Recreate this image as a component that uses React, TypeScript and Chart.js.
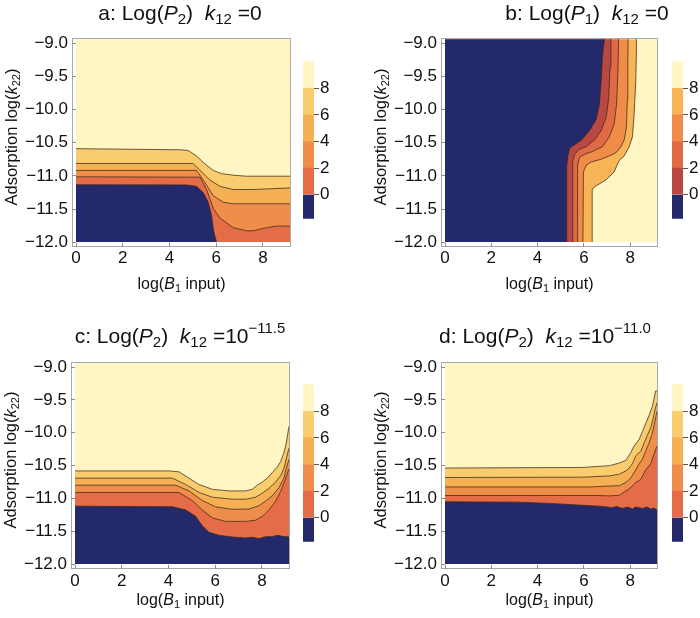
import React, { useEffect, useRef } from 'react';
import { Chart, registerables } from 'chart.js';

Chart.register(...registerables);

const FONT = '"Liberation Sans", Arial, Helvetica, sans-serif';
const INK = '#111111';
const CONTOUR_LINE = 'rgba(60, 40, 25, 0.75)';
const FRAME = '#a8a8a8';

// ---------- axes ----------
const xTicks = [0, 2, 4, 6, 8];
const xTickLabels = ['0', '2', '4', '6', '8'];
const yTicks = [-12, -11.5, -11, -10.5, -10, -9.5, -9];
const yTickLabels = ['−12.0', '−11.5', '−11.0', '−10.5', '−10.0', '−9.5', '−9.0'];
const xDataRange = [0, 9.16];
const yDataRange = [-12, -8.94];

// ---------- colour bar ----------
const barLevels = [-1.82, 0, 2, 4, 6, 8, 10.04];
const barTicks = [0, 2, 4, 6, 8];
const barTickLabels = ['0', '2', '4', '6', '8'];
// <0, 0-2, 2-4, 4-6, 6-8, >8
const coloursP2 = ['#23296B', '#E46C46', '#EF8E4B', '#F5B054', '#F9CC6E', '#FFF6C4'];
const coloursP1 = ['#23296B', '#B84841', '#DF6A45', '#EF8C4A', '#F7B557', '#FFF6C4'];

// ---------- panel a: Log(P2), k12 = 0  (contour y as function of x) ----------
const aC0 = [[0, -11.134], [4.73, -11.136], [5.16, -11.158], [5.45, -11.254], [5.66, -11.397], [5.8, -11.589], [5.9, -11.85], [6.02, -12.0]];
const aC2 = [[0, -11.014], [5.31, -11.02], [5.59, -11.206], [5.88, -11.493], [6.16, -11.636], [6.73, -11.78], [7.3, -11.828], [7.59, -11.828], [8.16, -11.78], [8.59, -11.756], [9.16, -11.756]];
const aC4 = [[0, -10.918], [5.16, -10.918], [5.45, -11.062], [5.88, -11.3], [6.3, -11.397], [6.73, -11.421], [7.59, -11.421], [9.16, -11.421]];
const aC6 = [[0, -10.813], [5.02, -10.813], [5.31, -10.918], [5.73, -11.062], [6.16, -11.158], [6.73, -11.206], [7.59, -11.206], [9.16, -11.182]];
const aC8 = [[0, -10.59], [4.45, -10.607], [4.8, -10.617], [5.16, -10.7], [5.52, -10.82], [5.88, -10.918], [6.23, -10.966], [6.73, -10.99], [7.3, -11.005], [9.16, -11.005]];

// ---------- panel b: Log(P1), k12 = 0  (contour x as function of y) ----------
const bC0 = [[5.24, -12.0], [5.26, -10.85], [5.31, -10.7], [5.39, -10.58], [5.6, -10.53], [5.89, -10.46], [6.24, -10.32], [6.53, -10.15], [6.67, -9.93], [6.74, -9.6], [6.81, -9.17], [6.89, -8.94]];
const bC2 = [[5.5, -12.0], [5.52, -10.79], [5.6, -10.675], [5.81, -10.6], [6.1, -10.56], [6.46, -10.46], [6.74, -10.32], [6.96, -10.125], [7.07, -9.84], [7.13, -9.36], [7.17, -8.94]];
const bC4 = [[5.71, -12.0], [5.73, -10.84], [5.81, -10.72], [6.03, -10.675], [6.39, -10.63], [6.81, -10.56], [7.1, -10.41], [7.31, -10.22], [7.41, -9.93], [7.47, -9.455], [7.5, -8.94]];
const bC6 = [[5.96, -12.0], [5.98, -10.94], [6.1, -10.84], [6.32, -10.79], [6.74, -10.75], [7.1, -10.7], [7.39, -10.65], [7.6, -10.56], [7.74, -10.46], [7.84, -10.27], [7.88, -9.84], [7.9, -9.36], [7.91, -8.94]];
const bC8 = [[6.36, -12.0], [6.36, -11.2], [6.53, -11.15], [6.96, -11.06], [7.31, -10.94], [7.43, -10.84], [7.53, -10.77], [7.74, -10.7], [7.96, -10.56], [8.1, -10.41], [8.17, -10.08], [8.24, -9.6], [8.27, -9.17], [8.27, -8.94]];

// ---------- panel c: Log(P2), k12 = 10^-11.5 ----------
const cC0 = [[0, -11.116], [4.17, -11.126], [4.74, -11.174], [5.16, -11.27], [5.45, -11.415], [5.73, -11.512], [6.16, -11.56], [6.73, -11.585], [7.3, -11.6], [7.59, -11.59], [7.87, -11.61], [8.16, -11.58], [8.45, -11.58], [8.66, -11.56], [8.87, -11.575], [9.16, -11.585]];
const cC2 = [[0, -10.908], [4.45, -10.908], [5.02, -11.03], [5.45, -11.174], [5.88, -11.295], [6.45, -11.348], [7.3, -11.348], [7.73, -11.33], [8.02, -11.27], [8.3, -11.174], [8.59, -11.04], [8.8, -10.894], [8.94, -10.763], [9.04, -10.667], [9.16, -10.546]];
const cC4 = [[0, -10.797], [4.31, -10.797], [4.88, -10.884], [5.45, -11.03], [6.02, -11.126], [6.73, -11.164], [7.45, -11.16], [7.87, -11.11], [8.16, -11.04], [8.45, -10.957], [8.73, -10.836], [8.94, -10.69], [9.04, -10.546], [9.16, -10.4]];
const cC6 = [[0, -10.69], [4.17, -10.69], [4.74, -10.787], [5.31, -10.908], [5.88, -10.98], [6.73, -11.01], [7.3, -11.01], [7.73, -10.98], [8.02, -10.918], [8.3, -10.845], [8.59, -10.749], [8.8, -10.652], [8.94, -10.546], [9.04, -10.4], [9.16, -10.23]];
const cC8 = [[0, -10.58], [4.02, -10.58], [4.45, -10.594], [4.88, -10.69], [5.31, -10.787], [5.88, -10.86], [6.59, -10.884], [7.3, -10.884], [7.59, -10.86], [7.8, -10.797], [8.02, -10.749], [8.23, -10.69], [8.45, -10.604], [8.66, -10.52], [8.8, -10.44], [8.94, -10.304], [9.04, -10.16], [9.16, -9.9]];

// ---------- panel d: Log(P2), k12 = 10^-11.0 ----------
const dC0 = [[0, -11.05], [3.1, -11.055], [4.53, -11.074], [5.96, -11.103], [6.81, -11.12], [7.24, -11.14], [7.39, -11.12], [7.67, -11.15], [7.89, -11.13], [8.1, -11.16], [8.24, -11.13], [8.53, -11.15], [8.74, -11.13], [8.89, -11.16], [9.03, -11.146], [9.16, -11.175]];
const dC2 = [[0, -10.954], [6.53, -10.954], [7.1, -10.96], [7.53, -10.95], [7.96, -10.853], [8.24, -10.757], [8.46, -10.71], [8.67, -10.565], [8.89, -10.47], [9.03, -10.325], [9.16, -10.2]];
const dC4 = [[0, -10.824], [6.24, -10.824], [7.1, -10.81], [7.53, -10.805], [7.81, -10.757], [8.03, -10.685], [8.24, -10.565], [8.39, -10.47], [8.53, -10.4], [8.67, -10.28], [8.81, -10.16], [8.93, -10.04], [9.03, -9.89], [9.1, -9.77], [9.16, -9.67]];
const dC6 = [[0, -10.68], [5.96, -10.675], [7.1, -10.656], [7.53, -10.63], [7.89, -10.565], [8.1, -10.47], [8.24, -10.35], [8.46, -10.28], [8.6, -10.16], [8.74, -10.04], [8.89, -9.92], [9.0, -9.77], [9.07, -9.65], [9.16, -9.54]];
const dC8 = [[0, -10.536], [5.96, -10.527], [7.1, -10.5], [7.53, -10.46], [7.81, -10.42], [8.03, -10.3], [8.17, -10.2], [8.39, -10.1], [8.53, -9.98], [8.67, -9.86], [8.81, -9.74], [8.96, -9.6], [9.03, -9.48], [9.1, -9.365], [9.16, -9.36]];

const Sub = ({ children, size = 15, dy = 4 }: { children: React.ReactNode; size?: number; dy?: number }) => (
  <span style={{ fontSize: size, position: 'relative', top: dy }}>{children}</span>
);
const Sup = ({ children }: { children: React.ReactNode }) => (
  <span style={{ fontSize: 15, position: 'relative', top: -10 }}>{children}</span>
);

type PanelSpec = {
  key: string;
  frame: number[];
  bar: number[];
  title: React.ReactNode;
  titleCx: number;
  titleTop: number;
  contours: number[][][];
  colours: string[];
  horizontal: boolean;
  xTitleTop: number;
  xTickPad: number;
};

const panels: PanelSpec[] = [
  {
    key: 'a', frame: [72, 28, 291, 247], bar: [303, 58, 314, 221],
    title: <>a: Log(<i>P</i><Sub>2</Sub>)&nbsp;&nbsp;<i>k</i><Sub>12</Sub> =0</>,
    titleCx: 180, titleTop: 2, contours: [aC0, aC2, aC4, aC6, aC8], colours: coloursP2,
    horizontal: false, xTitleTop: 276, xTickPad: 1,
  },
  {
    key: 'b', frame: [441, 28, 658, 247], bar: [672, 58, 683, 221],
    title: <>b: Log(<i>P</i><Sub>1</Sub>)&nbsp;&nbsp;<i>k</i><Sub>12</Sub> =0</>,
    titleCx: 587, titleTop: 2, contours: [bC0, bC2, bC4, bC6, bC8], colours: coloursP1,
    horizontal: true, xTitleTop: 276, xTickPad: 1,
  },
  {
    key: 'c', frame: [71, 352, 290, 569], bar: [303, 381, 314, 544],
    title: <>c: Log(<i>P</i><Sub>2</Sub>)&nbsp;&nbsp;<i>k</i><Sub>12</Sub> =10<Sup>−11.5</Sup></>,
    titleCx: 180, titleTop: 325, contours: [cC0, cC2, cC4, cC6, cC8], colours: coloursP2,
    horizontal: false, xTitleTop: 592, xTickPad: 2.5,
  },
  {
    key: 'd', frame: [441, 352, 658, 569], bar: [672, 381, 683, 544],
    title: <>d: Log(<i>P</i><Sub>2</Sub>)&nbsp;&nbsp;<i>k</i><Sub>12</Sub> =10<Sup>−11.0</Sup></>,
    titleCx: 545, titleTop: 325, contours: [dC0, dC2, dC4, dC6, dC8], colours: coloursP2,
    horizontal: false, xTitleTop: 592, xTickPad: 2.5,
  },
];

const TICK_IN = 4; // inward frame-tick length

// axis limits chosen so the data edges fall on whole pixels inside the frame
function axisLimits(spec: PanelSpec) {
  const [l, t, r, b] = spec.frame;
  const w = r - l;
  const h = b - t;
  const kx = (xDataRange[1] - xDataRange[0]) / (w - 5);
  const ky = (yDataRange[1] - yDataRange[0]) / (h - 6);
  return {
    x: [xDataRange[0] - 4 * kx, xDataRange[1] + 1 * kx],
    y: [yDataRange[0] - 5 * ky, yDataRange[1] + 1 * ky],
  };
}

// white plot-range padding strips and the grey frame
const framePlugin = {
  id: 'frameBox',
  afterDatasetsDraw(chart: any) {
    const { ctx, chartArea: a, scales } = chart;
    const x0 = Math.round(scales.x.getPixelForValue(xDataRange[0]));
    const x1 = Math.round(scales.x.getPixelForValue(xDataRange[1]));
    const y0 = Math.round(scales.y.getPixelForValue(yDataRange[0]));
    const y1 = Math.round(scales.y.getPixelForValue(yDataRange[1]));
    ctx.save();
    ctx.fillStyle = '#ffffff';
    ctx.fillRect(a.left, y0, a.right - a.left, a.bottom - y0);
    ctx.fillRect(a.left, a.top, x0 - a.left, a.bottom - a.top);
    ctx.fillRect(x1, a.top, a.right - x1, a.bottom - a.top);
    ctx.fillRect(a.left, a.top, a.right - a.left, y1 - a.top);
    ctx.strokeStyle = FRAME;
    ctx.lineWidth = 1;
    ctx.strokeRect(Math.round(a.left) + 0.5, Math.round(a.top) + 0.5, Math.round(a.right - a.left) - 1, Math.round(a.bottom - a.top) - 1);
    ctx.restore();
  },
};

function buildContourConfig(spec: PanelSpec): any {
  const lim = axisLimits(spec);
  const fillTo = spec.horizontal ? { value: lim.x[0] } : { value: lim.y[0] };
  const datasets: any[] = spec.contours.map((pts, i) => ({
    data: pts.map((p) => ({ x: p[0], y: p[1] })),
    backgroundColor: spec.colours[i],
    borderColor: CONTOUR_LINE,
    borderWidth: 1,
    fill: fillTo,
    pointRadius: 0,
    tension: 0,
  }));
  const topEdge = spec.horizontal
    ? [{ x: xDataRange[1], y: yDataRange[0] }, { x: xDataRange[1], y: yDataRange[1] }]
    : [{ x: xDataRange[0], y: yDataRange[1] }, { x: xDataRange[1], y: yDataRange[1] }];
  datasets.push({
    data: topEdge,
    backgroundColor: spec.colours[5],
    borderColor: 'rgba(0,0,0,0)',
    borderWidth: 0,
    fill: fillTo,
    pointRadius: 0,
    tension: 0,
  });
  const tickFont = { family: FONT, size: 17 };
  const frameTicks = { display: true, drawOnChartArea: false, drawTicks: true, tickLength: -TICK_IN, color: '#8c8c8c', z: 1 };
  return {
    type: 'line',
    data: { datasets },
    options: {
      responsive: false,
      animation: false,
      devicePixelRatio: 1,
      events: [],
      indexAxis: spec.horizontal ? 'y' : 'x',
      layout: { padding: { left: 0, top: 8, right: 4, bottom: 0 } },
      plugins: { legend: { display: false }, tooltip: { enabled: false }, title: { display: false } },
      scales: {
        x: {
          type: 'linear',
          position: 'bottom',
          min: lim.x[0],
          max: lim.x[1],
          afterBuildTicks: (s: any) => { s.ticks = xTicks.map((v) => ({ value: v })); },
          afterFit: (s: any) => { s.height = 53; },
          grid: frameTicks,
          border: { display: false },
          ticks: {
            callback: (_v: any, i: number) => xTickLabels[i],
            font: tickFont, color: INK, padding: spec.xTickPad + TICK_IN, maxRotation: 0, autoSkip: false,
          },
        },
        y: {
          type: 'linear',
          position: 'left',
          min: lim.y[0],
          max: lim.y[1],
          afterBuildTicks: (s: any) => { s.ticks = yTicks.map((v) => ({ value: v })); },
          afterFit: (s: any) => { s.width = 72; },
          grid: frameTicks,
          border: { display: false },
          ticks: {
            callback: (_v: any, i: number) => yTickLabels[i],
            font: tickFont, color: INK, padding: 4 + TICK_IN, autoSkip: false,
          },
        },
      },
    },
    plugins: [framePlugin],
  };
}

function buildBarConfig(spec: PanelSpec, axisWidth: number): any {
  const datasets = spec.colours.map((c, i) => ({
    data: [[barLevels[i], barLevels[i + 1]]],
    backgroundColor: c,
    borderWidth: 0,
    barPercentage: 1,
    categoryPercentage: 1,
    grouped: false,
  }));
  return {
    type: 'bar',
    data: { labels: [''], datasets },
    options: {
      responsive: false,
      animation: false,
      devicePixelRatio: 1,
      events: [],
      layout: { padding: { left: 3, top: 8, right: 0, bottom: 9 } },
      plugins: { legend: { display: false }, tooltip: { enabled: false } },
      scales: {
        x: { display: false },
        y: {
          type: 'linear',
          position: 'right',
          min: barLevels[0],
          max: barLevels[barLevels.length - 1],
          afterBuildTicks: (s: any) => { s.ticks = barTicks.map((v) => ({ value: v })); },
          afterFit: (s: any) => { s.width = axisWidth; },
          grid: { display: true, drawOnChartArea: false, drawTicks: true, tickLength: 5, color: '#6e5232' },
          border: { display: false },
          ticks: {
            callback: (_v: any, i: number) => barTickLabels[i],
            font: { family: FONT, size: 17 }, color: INK, padding: 1, autoSkip: false,
          },
        },
      },
    },
  };
}

function ContourChart({ spec }: { spec: PanelSpec }) {
  const ref = useRef<HTMLCanvasElement | null>(null);
  const [l, t, r, b] = spec.frame;
  const left = l - 72;
  const top = t - 8;
  const width = r - l + 76;
  const height = b - t + 61;
  useEffect(() => {
    if (!ref.current) return;
    const chart = new Chart(ref.current, buildContourConfig(spec));
    return () => chart.destroy();
  }, []);
  return <canvas ref={ref} width={width} height={height} style={{ position: 'absolute', left, top, width, height }} />;
}

function ColourBar({ spec }: { spec: PanelSpec }) {
  const ref = useRef<HTMLCanvasElement | null>(null);
  const [l, t, r, b] = spec.bar;
  const left = l - 3;
  const top = t - 8;
  const width = Math.min(40, 700 - left);
  const height = b - t + 17;
  const axisWidth = width - 3 - (r - l);
  useEffect(() => {
    if (!ref.current) return;
    const chart = new Chart(ref.current, buildBarConfig(spec, axisWidth));
    return () => chart.destroy();
  }, []);
  return <canvas ref={ref} width={width} height={height} style={{ position: 'absolute', left, top, width, height }} />;
}

const textBase: React.CSSProperties = {
  position: 'absolute',
  textAlign: 'center',
  whiteSpace: 'nowrap',
  fontFamily: FONT,
  color: INK,
  zIndex: 2,
};

function PanelText({ spec }: { spec: PanelSpec }) {
  const [l, t, r, b] = spec.frame;
  const cx = (l + r) / 2;
  const cy = (t + b) / 2 - 1;
  const yTitleX = l - 61.5;
  return (
    <>
      <div style={{ ...textBase, left: spec.titleCx - 200, top: spec.titleTop, width: 400, fontSize: 21, lineHeight: '21px' }}>
        {spec.title}
      </div>
      <div style={{ ...textBase, left: cx - 100, top: spec.xTitleTop, width: 200, fontSize: 16, lineHeight: '16px' }}>
        log(<i>B</i><Sub size={11} dy={3}>1</Sub> input)
      </div>
      <div
        style={{
          ...textBase,
          left: yTitleX - 100,
          top: cy - 8,
          width: 200,
          height: 16,
          fontSize: 16.5,
          lineHeight: '16px',
          transform: 'rotate(-90deg)',
          transformOrigin: '50% 50%',
        }}
      >
        Adsorption log(<i>k</i><Sub size={11} dy={3}>22</Sub>)
      </div>
    </>
  );
}

export default function App() {
  return (
    <div style={{ position: 'fixed', left: 0, top: 0, width: 700, height: 618, background: '#ffffff', overflow: 'hidden' }}>
      {panels.map((p) => (
        <React.Fragment key={p.key}>
          <ContourChart spec={p} />
          <ColourBar spec={p} />
          <PanelText spec={p} />
        </React.Fragment>
      ))}
    </div>
  );
}
